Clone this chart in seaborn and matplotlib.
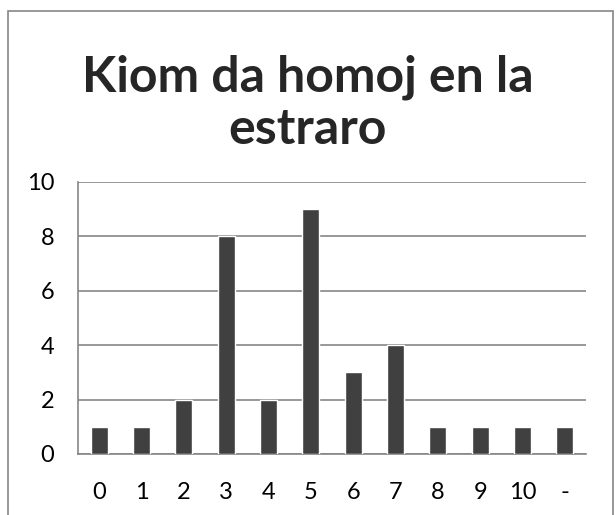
import matplotlib
matplotlib.use("Agg")
import matplotlib.pyplot as plt
import seaborn as sns
import pandas as pd
from matplotlib.patches import Rectangle

# category labels and counts
categorioj = ["0", "1", "2", "3", "4", "5", "6", "7", "8", "9", "10", "-"]
kvantoj = [1, 1, 2, 8, 2, 9, 3, 4, 1, 1, 1, 1]
titolo = "Kiom da homoj en la\nestraro"

def main():
    sns.set_style("white")
    plt.rcParams["font.family"] = ["Lato", "DejaVu Sans"]

    df = pd.DataFrame({"kat": categorioj, "n": kvantoj})

    fig = plt.figure(figsize=(6.16, 5.15), dpi=100)
    ax = fig.add_axes([78 / 616, 1 - 454 / 515, (586 - 78) / 616, (454 - 182) / 515])

    sns.barplot(data=df, x="kat", y="n", order=categorioj, color="#404040",
                saturation=1, width=0.4, ax=ax, zorder=3)

    ax.set_ylim(0, 10)
    ax.set_yticks([0, 2, 4, 6, 8, 10])
    ax.set_xlim(-0.5, len(categorioj) - 0.5)
    ax.set_xlabel("")
    ax.set_ylabel("")
    ax.yaxis.grid(True, color="#868686", linewidth=1.2, zorder=0)
    ax.set_axisbelow(True)
    for side in ["top", "right"]:
        ax.spines[side].set_visible(False)
    for side in ["left", "bottom"]:
        ax.spines[side].set_color("#868686")
        ax.spines[side].set_linewidth(1.2)
    ax.tick_params(axis="both", length=0, labelsize=17, colors="black")
    ax.tick_params(axis="y", pad=17)
    ax.tick_params(axis="x", pad=20)

    # title in two lines, each placed on its baseline
    baselinioj = [92, 144]
    for linio, y in zip(titolo.split("\n"), baselinioj):
        fig.text(0.5, 1 - y / 515, linio, ha="center", va="baseline",
                 fontsize=36, fontweight="bold")

    # chart frame like a spreadsheet chart area
    fig.patches.append(Rectangle((8 / 616, -0.1), (613 - 8) / 616, 1.1 - 11 / 515,
                                 transform=fig.transFigure, fill=False,
                                 edgecolor="#868686", linewidth=1.2))

    fig.savefig("out.png", dpi=100)

if __name__ == "__main__":
    main()
